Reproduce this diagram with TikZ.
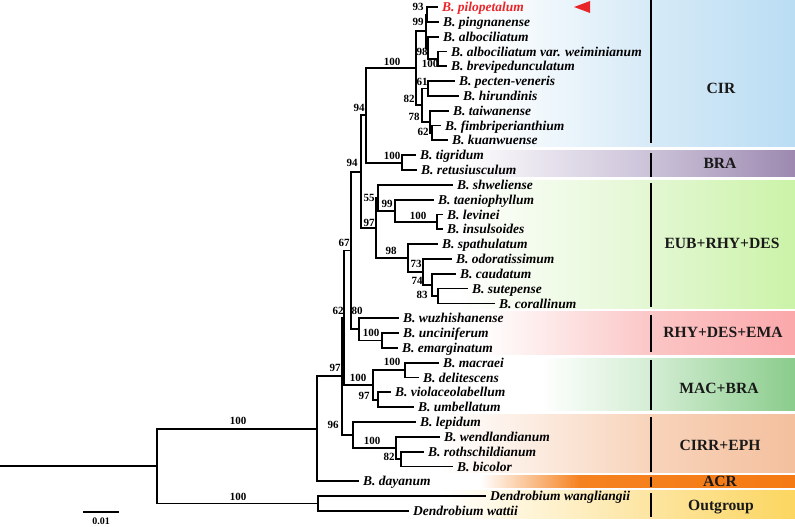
\documentclass[tikz,border=0pt]{standalone}
\usepackage{fontspec}
\setmainfont{Liberation Serif}
\definecolor{redlab}{HTML}{E8262A}
\definecolor{cirA}{HTML}{D6EAF7}\definecolor{cirB}{HTML}{BADDF4}
\definecolor{braA}{HTML}{CBC2D8}\definecolor{braB}{HTML}{9D89B0}
\definecolor{eubA}{HTML}{E3F7D2}\definecolor{eubB}{HTML}{CBF3A8}
\definecolor{rhyA}{HTML}{FBC6C6}\definecolor{rhyB}{HTML}{FBA8AA}
\definecolor{macA}{HTML}{D3EDD3}\definecolor{macB}{HTML}{8ACC8C}
\definecolor{cirrA}{HTML}{F8D3BA}\definecolor{cirrB}{HTML}{F4C09E}
\definecolor{acrA}{HTML}{F58220}\definecolor{acrB}{HTML}{F57A14}
\definecolor{outA}{HTML}{FDE5A0}\definecolor{outB}{HTML}{FCD660}
\begin{document}
\begin{tikzpicture}[x=1pt,y=-1pt,
  br/.style={line width=1.8pt, line cap=rect, line join=miter},
  taxon/.style={anchor=base west, inner sep=0pt, xshift=5pt, yshift=-4.6pt, font=\fontsize{13.5}{14}\selectfont\bfseries\itshape},
  bs/.style={inner sep=0pt, font=\fontsize{11}{12}\selectfont\bfseries},
  clade/.style={anchor=base, inner sep=0pt, yshift=-5.4pt, font=\fontsize{15.6}{16}\selectfont\bfseries, text=black!90},
  sepline/.style={line width=2.4pt}
]
\useasboundingbox (0,0) rectangle (795,527);
% ---------- bands ----------
\shade[left color=white,right color=cirA] (480,0) rectangle (651,146);
\shade[left color=cirA,right color=cirB] (651,0) rectangle (795,146);
\shade[left color=white,right color=braA] (455,150.5) rectangle (651,176.5);
\shade[left color=braA,right color=braB] (651,150.5) rectangle (795,176.5);
\shade[left color=white,right color=eubA] (455,180) rectangle (651,308);
\shade[left color=eubA,right color=eubB] (651,180) rectangle (795,308);
\shade[left color=white,right color=rhyA] (480,311.5) rectangle (651,354);
\shade[left color=rhyA,right color=rhyB] (651,311.5) rectangle (795,354);
\shade[left color=white,right color=macA] (540,358) rectangle (651,410.5);
\shade[left color=macA,right color=macB] (651,358) rectangle (795,410.5);
\shade[left color=white,right color=cirrA] (440,414) rectangle (651,472.5);
\shade[left color=cirrA,right color=cirrB] (651,414) rectangle (795,472.5);
\shade[left color=white,right color=acrA] (480,475) rectangle (580,487);
\shade[left color=acrA,right color=acrB] (580,475) rectangle (795,487);
\shade[left color=white,right color=outA] (440,490) rectangle (651,518);
\shade[left color=outA,right color=outB] (651,490) rectangle (795,518);
% separator lines
\coordinate (s1a) at (651,0);     \coordinate (s1b) at (651,143);
\coordinate (s2a) at (651,153);   \coordinate (s2b) at (651,177);
\coordinate (s3a) at (651,183);   \coordinate (s3b) at (651,307);
\coordinate (s4a) at (651,315);   \coordinate (s4b) at (651,352);
\coordinate (s5a) at (651,360);   \coordinate (s5b) at (651,410);
\coordinate (s6a) at (651,417);   \coordinate (s6b) at (651,472);
\coordinate (s7a) at (651,477);   \coordinate (s7b) at (651,487);
\coordinate (s8a) at (651,493);   \coordinate (s8b) at (651,517);
\foreach \i in {1,...,8} {\draw[sepline] (s\i a) -- (s\i b);}
% clade labels
\node[clade] (cCIR) at (721,88) {CIR};
\node[clade] (cBRA) at (720,163.5) {BRA};
\node[clade] (cEUB) at (722,243) {EUB+RHY+DES};
\node[clade] (cRHY) at (723,332) {RHY+DES+EMA};
\node[clade] (cMAC) at (719,388) {MAC+BRA};
\node[clade] (cCIRR) at (720,445) {CIRR+EPH};
\node[clade] (cACR) at (720,481.5) {ACR};
\node[clade] (cOUT) at (721,505) {Outgroup};
% ---------- internal nodes ----------
\coordinate (rootstart) at (0,466.13);
\coordinate (ROOT) at (157,466.13);
\coordinate (NIN) at (317,428.78);
\coordinate (NOUT) at (318,503.47);
\coordinate (N97) at (342,376.32);
\coordinate (N62) at (344,317.7);
\coordinate (N96) at (353,434.93);
\coordinate (N67) at (351,250.49);
\coordinate (NMAC) at (373,384.91);
\coordinate (N94b) at (361,171.64);
\coordinate (N80) at (359,329.34);
\coordinate (N94a) at (366,115.37);
\coordinate (N97c) at (376,227.91);
\coordinate (NCIR) at (416,68.13);
\coordinate (NBRA) at (402,162.61);
\coordinate (N99) at (426,31.08);
\coordinate (N82) at (422,105.18);
\coordinate (N93) at (427,14.41);
\coordinate (N98) at (428,47.755);
\coordinate (N100d) at (438,58.87);
\coordinate (N61) at (428,88.51);
\coordinate (N78) at (430,121.855);
\coordinate (N62a) at (432,132.97);
\coordinate (N55) at (378,197.81);
\coordinate (N99b) at (395,210.78);
\coordinate (N100c) at (437,221.89);
\coordinate (N98b) at (408,258.01);
\coordinate (N73) at (423,271.91);
\coordinate (N74) at (432,284.875);
\coordinate (N83) at (438,295.99);
\coordinate (N100e) at (382,340.45);
\coordinate (N100f) at (405,370.09);
\coordinate (N97d) at (378,399.73);
\coordinate (N100g) at (396,447.9);
\coordinate (N82b) at (401,459.01);
% ---------- tips ----------
\coordinate (p1) at (437,7.0);
\coordinate (p2) at (438,21.82);
\coordinate (p3) at (438,36.64);
\coordinate (p4) at (446,51.46);
\coordinate (p5) at (446,66.28);
\coordinate (p6) at (454,81.10);
\coordinate (p7) at (458,95.92);
\coordinate (p8) at (448,110.74);
\coordinate (p9) at (440,125.56);
\coordinate (p10) at (447,140.38);
\coordinate (p11) at (415,155.20);
\coordinate (p12) at (416,170.02);
\coordinate (p13) at (452,184.84);
\coordinate (p14) at (433,199.66);
\coordinate (p15) at (442,214.48);
\coordinate (p16) at (442,229.30);
\coordinate (p17) at (437,244.12);
\coordinate (p18) at (451,258.94);
\coordinate (p19) at (455,273.76);
\coordinate (p20) at (467,288.58);
\coordinate (p21) at (494,303.40);
\coordinate (p22) at (398,318.22);
\coordinate (p23) at (398,333.04);
\coordinate (p24) at (397,347.86);
\coordinate (p25) at (438,362.68);
\coordinate (p26) at (418,377.50);
\coordinate (p27) at (390,392.32);
\coordinate (p28) at (413,407.14);
\coordinate (p29) at (415,421.96);
\coordinate (p30) at (439,436.78);
\coordinate (p31) at (423,451.60);
\coordinate (p32) at (452,466.42);
\coordinate (p33) at (358,481.24);
\coordinate (p34) at (485,496.06);
\coordinate (p35) at (408,510.88);
% ---------- branches ----------
\draw[br] (rootstart) -- (ROOT);
\draw[br] (ROOT) |- (NIN);   \draw[br] (ROOT) |- (NOUT);
\draw[br] (NOUT) |- (p34);   \draw[br] (NOUT) |- (p35);
\draw[br] (NIN) |- (N97);    \draw[br] (NIN) |- (p33);
\draw[br] (N97) |- (N62);    \draw[br] (N97) |- (N96);
\draw[br] (N62) |- (N67);    \draw[br] (N62) |- (NMAC);
\draw[br] (N67) |- (N94b);   \draw[br] (N67) |- (N80);
\draw[br] (N94b) |- (N94a);  \draw[br] (N94b) |- (N97c);
\draw[br] (N94a) |- (NCIR);  \draw[br] (N94a) |- (NBRA);
\draw[br] (NCIR) |- (N99);   \draw[br] (NCIR) |- (N82);
\draw[br] (N99) |- (N93);    \draw[br] (N99) |- (N98);
\draw[br] (N93) |- (p1);     \draw[br] (N93) |- (p2);
\draw[br] (N98) |- (p3);     \draw[br] (N98) |- (N100d);
\draw[br] (N100d) |- (p4);   \draw[br] (N100d) |- (p5);
\draw[br] (N82) |- (N61);    \draw[br] (N82) |- (N78);
\draw[br] (N61) |- (p6);     \draw[br] (N61) |- (p7);
\draw[br] (N78) |- (p8);     \draw[br] (N78) |- (N62a);
\draw[br] (N62a) |- (p9);    \draw[br] (N62a) |- (p10);
\draw[br] (NBRA) |- (p11);   \draw[br] (NBRA) |- (p12);
\draw[br] (N97c) |- (N55);   \draw[br] (N97c) |- (N98b);
\draw[br] (N55) |- (p13);    \draw[br] (N55) |- (N99b);
\draw[br] (N99b) |- (p14);   \draw[br] (N99b) |- (N100c);
\draw[br] (N100c) |- (p15);  \draw[br] (N100c) |- (p16);
\draw[br] (N98b) |- (p17);   \draw[br] (N98b) |- (N73);
\draw[br] (N73) |- (p18);    \draw[br] (N73) |- (N74);
\draw[br] (N74) |- (p19);    \draw[br] (N74) |- (N83);
\draw[br] (N83) |- (p20);    \draw[br] (N83) |- (p21);
\draw[br] (N80) |- (p22);    \draw[br] (N80) |- (N100e);
\draw[br] (N100e) |- (p23);  \draw[br] (N100e) |- (p24);
\draw[br] (NMAC) |- (N100f); \draw[br] (NMAC) |- (N97d);
\draw[br] (N100f) |- (p25);  \draw[br] (N100f) |- (p26);
\draw[br] (N97d) |- (p27);   \draw[br] (N97d) |- (p28);
\draw[br] (N96) |- (p29);    \draw[br] (N96) |- (N100g);
\draw[br] (N100g) |- (p30);  \draw[br] (N100g) |- (N82b);
\draw[br] (N82b) |- (p31);   \draw[br] (N82b) |- (p32);
% ---------- taxon labels ----------
\node[taxon,text=redlab] (t1) at (p1) {B. pilopetalum};
\node[taxon] (t2) at (p2) {B. pingnanense};
\node[taxon] (t3) at (p3) {B. albociliatum};
\node[taxon] (t4) at (p4) {B. albociliatum var. weiminianum};
\node[taxon] (t5) at (p5) {B. brevipedunculatum};
\node[taxon] (t6) at (p6) {B. pecten-veneris};
\node[taxon] (t7) at (p7) {B. hirundinis};
\node[taxon] (t8) at (p8) {B. taiwanense};
\node[taxon] (t9) at (p9) {B. fimbriperianthium};
\node[taxon] (t10) at (p10) {B. kuanwuense};
\node[taxon] (t11) at (p11) {B. tigridum};
\node[taxon] (t12) at (p12) {B. retusiusculum};
\node[taxon] (t13) at (p13) {B. shweliense};
\node[taxon] (t14) at (p14) {B. taeniophyllum};
\node[taxon] (t15) at (p15) {B. levinei};
\node[taxon] (t16) at (p16) {B. insulsoides};
\node[taxon] (t17) at (p17) {B. spathulatum};
\node[taxon] (t18) at (p18) {B. odoratissimum};
\node[taxon] (t19) at (p19) {B. caudatum};
\node[taxon] (t20) at (p20) {B. sutepense};
\node[taxon] (t21) at (p21) {B. corallinum};
\node[taxon] (t22) at (p22) {B. wuzhishanense};
\node[taxon] (t23) at (p23) {B. unciniferum};
\node[taxon] (t24) at (p24) {B. emarginatum};
\node[taxon] (t25) at (p25) {B. macraei};
\node[taxon] (t26) at (p26) {B. delitescens};
\node[taxon] (t27) at (p27) {B. violaceolabellum};
\node[taxon] (t28) at (p28) {B. umbellatum};
\node[taxon] (t29) at (p29) {B. lepidum};
\node[taxon] (t30) at (p30) {B. wendlandianum};
\node[taxon] (t31) at (p31) {B. rothschildianum};
\node[taxon] (t32) at (p32) {B. bicolor};
\node[taxon] (t33) at (p33) {B. dayanum};
\node[taxon] (t34) at (p34) {Dendrobium wangliangii};
\node[taxon] (t35) at (p35) {Dendrobium wattii};
% red marker
\fill[redlab] (574,7) -- (590,1) -- (590,13) -- cycle;
% ---------- support values ----------
\node[bs] (b1) at (238,421) {100};
\node[bs] (b2) at (238,496.5) {100};
\node[bs] (b3) at (335,368) {97};
\node[bs] (b4) at (333,425) {96};
\node[bs] (b5) at (338,311) {62};
\node[bs] (b6) at (357,311) {80};
\node[bs] (b7) at (344,243) {67};
\node[bs] (b8) at (352,163) {94};
\node[bs] (b9) at (359,108) {94};
\node[bs] (b10) at (392,62) {100};
\node[bs] (b11) at (418,6.5) {93};
\node[bs] (b12) at (418,22) {99};
\node[bs] (b13) at (422,52) {98};
\node[bs] (b14) at (430,64) {100};
\node[bs] (b15) at (422,82) {61};
\node[bs] (b16) at (409,99) {82};
\node[bs] (b17) at (414,117) {78};
\node[bs] (b18) at (423,132) {62};
\node[bs] (b19) at (392,156) {100};
\node[bs] (b20) at (369,198) {55};
\node[bs] (b21) at (387,204) {99};
\node[bs] (b22) at (369,223) {97};
\node[bs] (b23) at (418,216) {100};
\node[bs] (b24) at (391,251) {98};
\node[bs] (b25) at (416,264) {73};
\node[bs] (b26) at (417,281) {74};
\node[bs] (b27) at (422,295) {83};
\node[bs] (b28) at (371,333) {100};
\node[bs] (b29) at (392,362) {100};
\node[bs] (b30) at (358,378) {100};
\node[bs] (b31) at (364,396) {97};
\node[bs] (b32) at (372,441) {100};
\node[bs] (b33) at (389,457) {82};
% ---------- scale bar ----------
\coordinate (sb1) at (83,512);
\coordinate (sb2) at (119,512);
\draw[line width=1.8pt] (sb1) -- (sb2);
\node[bs,font=\fontsize{10}{11}\selectfont\bfseries] (sbl) at (101,521.5) {0.01};
\end{tikzpicture}
\end{document}
